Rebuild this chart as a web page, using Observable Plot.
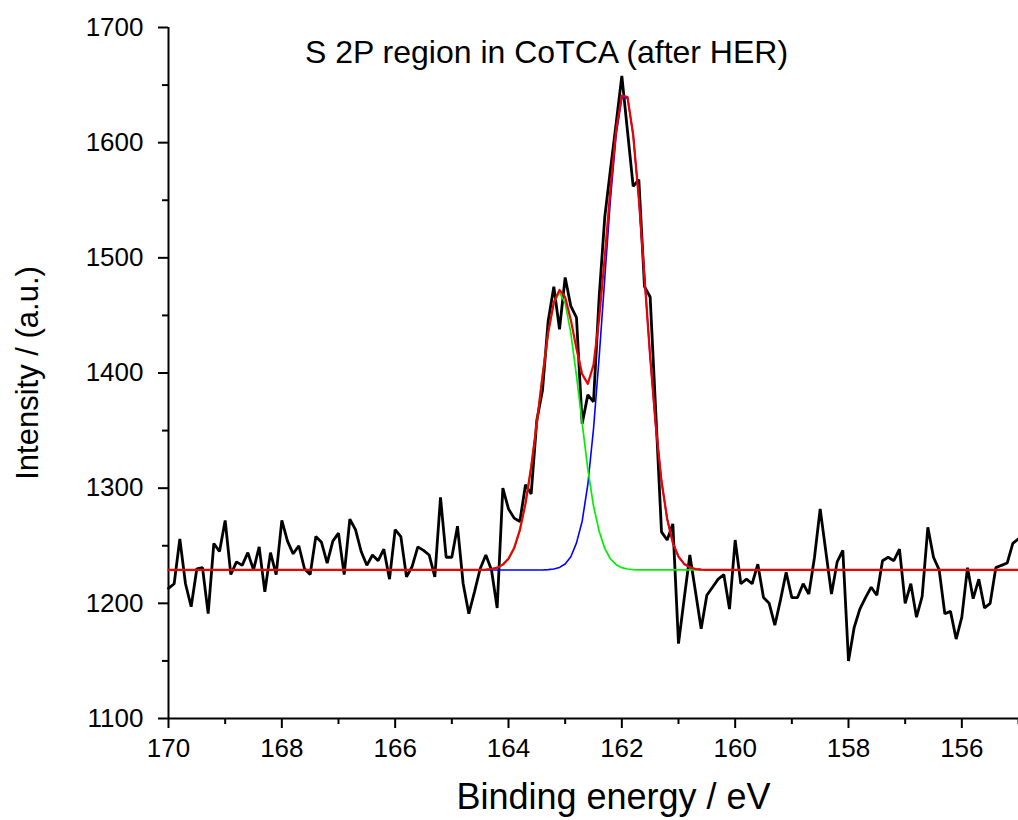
<!DOCTYPE html>
<html><head><meta charset="utf-8">
<script src="https://cdn.jsdelivr.net/npm/d3@7"></script>
<script src="https://cdn.jsdelivr.net/npm/@observablehq/plot@0.6"></script>
<style>
html,body{margin:0;padding:0;background:#fff;}
#chart{width:1018px;height:820px;}
</style></head><body><div id="chart"></div>
<script>
// Binding energy grid (eV) of the measured spectrum
const energy = [
170.0,169.9,169.8,169.7,169.6,169.5,169.4,169.3,169.2,169.1,
169.0,168.9,168.8,168.7,168.6,168.5,168.4,168.3,168.2,168.1,
168.0,167.9,167.8,167.7,167.6,167.5,167.4,167.3,167.2,167.1,
167.0,166.9,166.8,166.7,166.6,166.5,166.4,166.3,166.2,166.1,
166.0,165.9,165.8,165.7,165.6,165.5,165.4,165.3,165.2,165.1,
165.0,164.9,164.8,164.7,164.6,164.5,164.4,164.3,164.2,164.1,
164.0,163.9,163.8,163.7,163.6,163.5,163.4,163.3,163.2,163.1,
163.0,162.9,162.8,162.7,162.6,162.5,162.4,162.3,162.2,162.1,
162.0,161.9,161.8,161.7,161.6,161.5,161.4,161.3,161.2,161.1,
161.0,160.9,160.8,160.7,160.6,160.5,160.4,160.3,160.2,160.1,
160.0,159.9,159.8,159.7,159.6,159.5,159.4,159.3,159.2,159.1,
159.0,158.9,158.8,158.7,158.6,158.5,158.4,158.3,158.2,158.1,
158.0,157.9,157.8,157.7,157.6,157.5,157.4,157.3,157.2,157.1,
157.0,156.9,156.8,156.7,156.6,156.5,156.4,156.3,156.2,156.1,
156.0,155.9,155.8,155.7,155.6,155.5,155.4,155.3,155.2,155.1,
155.0
];
// Measured intensity (a.u.)
const intensity = [
1213,1217,1256,1217,1197,1230,1231,1191,1252,1245,
1272,1225,1236,1233,1244,1229,1249,1210,1244,1225,
1272,1254,1243,1250,1230,1225,1258,1253,1235,1254,
1261,1225,1273,1264,1245,1233,1242,1237,1247,1221,
1264,1258,1223,1232,1249,1246,1242,1223,1292,1240,
1240,1267,1217,1191,1210,1230,1242,1229,1196,1300,
1282,1274,1271,1303,1295,1359,1385,1445,1475,1438,
1483,1458,1448,1356,1381,1375,1466,1536,1577,1617,
1658,1610,1562,1568,1475,1466,1365,1262,1255,1269,
1165,1204,1242,1210,1178,1207,1214,1221,1225,1195,
1255,1217,1221,1217,1234,1205,1200,1181,1203,1227,
1205,1205,1217,1208,1240,1282,1245,1208,1236,1246,
1150,1179,1195,1205,1214,1207,1237,1240,1237,1247,
1200,1217,1188,1206,1266,1240,1229,1191,1193,1169,
1188,1231,1204,1221,1196,1200,1231,1233,1235,1252,
1256
];
// Fitted component curves
const fitEnergy = [
170.0,164.5,164.4,164.3,164.2,164.1,164.0,163.9,163.8,163.7,
163.6,163.5,163.4,163.3,163.2,163.1,163.0,162.9,162.8,162.7,
162.6,162.5,162.4,162.3,162.2,162.1,162.0,161.9,161.8,161.7,
161.6,161.5,161.4,161.3,161.2,161.1,161.0,160.9,160.8,160.7,
160.6,160.5,155.0
];
const fitGreen = [
1229,1229,1229.3,1229.8,1231.0,1233.6,1238.7,1248.0,1263.5,1286.7,
1318.4,1356.7,1397.6,1434.6,1460.6,1470.0,1460.6,1434.6,1397.6,1356.7,
1316.4,1284.7,1262.5,1247.5,1238.5,1233.6,1231.0,1229.8,1229.3,1229,
1229,1229,1229,1229,1229,1229,1229,1229,1229,1229,
1229,1229,1229
];
const fitBlue = [
1229,1229,1229,1229,1229,1229,1229,1229,1229,1229,
1229,1229,1229,1229.3,1229.8,1231.2,1234.2,1240.5,1252.5,1271.3,
1303.2,1351.4,1413.9,1483.0,1551.3,1606.7,1638.9,1638.9,1606.7,1551.3,
1483.0,1413.9,1353.4,1306.2,1273.3,1252.5,1240.5,1234.2,1231.2,1229.8,
1229.3,1229,1229
];
const fitBaseline = 1229;

const xTicks = [170,168,166,164,162,160,158,156];
const xMinorTicks = [169,167,165,163,161,159,157,155];
const yTicks = [1100,1200,1300,1400,1500,1600,1700];
const yMinorTicks = [1150,1250,1350,1450,1550,1650];

const chartTitle = "S 2P region in CoTCA (after HER)";
const xTitle = "Binding energy / eV";
const yTitle = "Intensity / (a.u.)";

const raw = energy.map((e, i) => ({e, v: intensity[i]}));
const fit = fitEnergy.map((e, i) => ({
  e, blue: fitBlue[i], green: fitGreen[i],
  red: fitBlue[i] + fitGreen[i] - fitBaseline
}));

const font = "'Liberation Sans', Arial, Helvetica, sans-serif";
const fmt = d => String(d);

const chart = Plot.plot({
  width: 1018, height: 820,
  marginLeft: 168, marginRight: 0, marginTop: 27, marginBottom: 102,
  style: {fontFamily: font, background: "#fff", color: "#000", overflow: "visible"},
  x: {domain: [170, 155]},
  y: {domain: [1100, 1700]},
  marks: [
    Plot.axisX(xTicks, {tickSize: 10, tickPadding: 10, fontSize: 26, label: null, strokeWidth: 2, tickFormat: fmt}),
    Plot.axisX(xMinorTicks, {tickSize: 6, text: null, label: null, strokeWidth: 2}),
    Plot.axisY(yTicks, {tickSize: 10, tickPadding: 15, fontSize: 26, label: null, strokeWidth: 2, tickFormat: fmt}),
    Plot.axisY(yMinorTicks, {tickSize: 6, text: null, label: null, strokeWidth: 2}),
    Plot.ruleX([xTicks[0]], {stroke: "#000", strokeWidth: 2}),
    Plot.ruleY([yTicks[0]], {stroke: "#000", strokeWidth: 2}),
    Plot.line(raw, {x: "e", y: "v", stroke: "#000", strokeWidth: 2.8, strokeLinejoin: "miter"}),
    Plot.line(fit, {x: "e", y: "blue", stroke: "#0000ff", strokeWidth: 1.6}),
    Plot.line(fit, {x: "e", y: "green", stroke: "#00f000", strokeWidth: 1.7}),
    Plot.line(fit, {x: "e", y: "red", stroke: "#ee0000", strokeWidth: 2.2}),
    Plot.text([chartTitle], {text: d => d, frameAnchor: "top", dx: -47, dy: 25, fontSize: 32, textAnchor: "middle", lineAnchor: "middle", fill: "#000"}),
    Plot.text([yTitle], {text: d => d, frameAnchor: "left", dx: -140, rotate: -90, fontSize: 31, textAnchor: "middle", lineAnchor: "middle", fill: "#000"}),
    Plot.text([xTitle], {text: d => d, frameAnchor: "bottom", dx: 20, dy: 79, fontSize: 36, textAnchor: "middle", lineAnchor: "middle", fill: "#000"})
  ]
});
document.getElementById("chart").appendChild(chart);
</script>
</body></html>
